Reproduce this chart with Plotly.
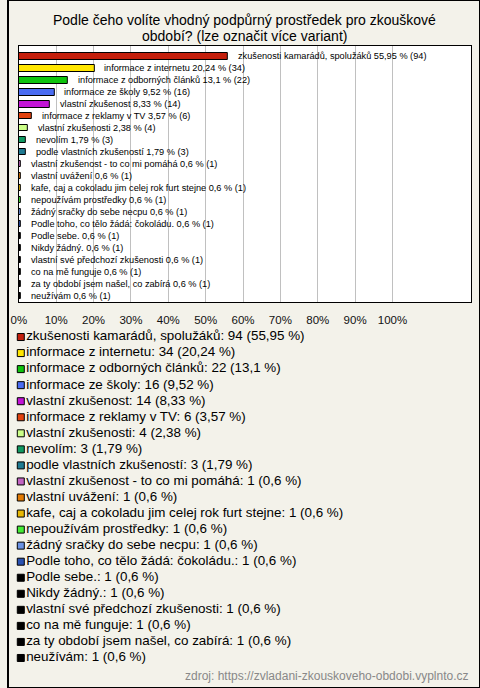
import plotly.graph_objects as go

title_lines = ["Podle čeho volíte vhodný podpůrný prostředek pro zkouškové",
               "období? (lze označit více variant)"]

categories = [
    "zkušenosti kamarádů, spolužáků",
    "informace z internetu",
    "informace z odborných článků",
    "informace ze školy",
    "vlastní zkušenost",
    "informace z reklamy v TV",
    "vlastní zkušenosti",
    "nevolím",
    "podle vlastních zkušeností",
    "vlastní zkušenost - to co mi pomáhá",
    "vlastní uvážení",
    "kafe, caj a cokoladu jim celej rok furt stejne",
    "nepoužívám prostředky",
    "žádný sračky do sebe necpu",
    "Podle toho, co tělo žádá: čokoládu.",
    "Podle sebe.",
    "Nikdy žádný.",
    "vlastní své předchozí zkušenosti",
    "co na mě funguje",
    "za ty období jsem našel, co zabírá",
    "neužívám",
]
counts = [94, 34, 22, 16, 14, 6, 4, 3, 3, 1, 1, 1, 1, 1, 1, 1, 1, 1, 1, 1, 1]
percents = [55.95, 20.24, 13.1, 9.52, 8.33, 3.57, 2.38, 1.79, 1.79,
            0.6, 0.6, 0.6, 0.6, 0.6, 0.6, 0.6, 0.6, 0.6, 0.6, 0.6, 0.6]
colors = ["#c41f0c", "#ffe600", "#0ec40e", "#4a6cf2", "#c214d6", "#e2420e",
          "#ccff88", "#109a62", "#1f7a92", "#c264c2", "#e27a04", "#e8b804",
          "#44ee36", "#6a92e4", "#2a52b2",
          "#000000", "#000000", "#000000", "#000000", "#000000", "#000000"]
tick_vals = [0, 10, 20, 30, 40, 50, 60, 70, 80, 90, 100]
tick_labels = [f"{v}%" for v in tick_vals]
source_text = "zdroj: https://zvladani-zkouskoveho-obdobi.vyplnto.cz"

W, H = 480, 688
BG = "#f3f2ea"
FONT = "Liberation Sans, Arial, sans-serif"


def cz(v):
    return f"{v:g}".replace(".", ",")


idx = list(range(len(categories)))

fig = go.Figure()

fig.add_trace(go.Bar(
    x=percents, y=idx, orientation="h",
    marker=dict(color=colors, line=dict(color="#000000", width=1)),
    width=0.52, hoverinfo="skip", showlegend=False,
    xaxis="x", yaxis="y",
))

# labels next to bars
for i, (c, p, n) in enumerate(zip(categories, percents, counts)):
    fig.add_annotation(
        x=p, y=i, xref="x", yref="y",
        text=f"{c} {cz(p)} % ({n})",
        showarrow=False, xanchor="left", yanchor="middle", xshift=8,
        font=dict(family=FONT, size=9.2, color="#000000"),
    )

# legend drawn as scatter in its own subplot
fig.add_trace(go.Scatter(
    x=[0] * len(categories), y=idx, mode="markers+text",
    marker=dict(symbol="square", size=7, color=colors,
                line=dict(color="#000000", width=1)),
    text=[f"{c}: {n} ({cz(p)} %)" for c, n, p in zip(categories, counts, percents)],
    textposition="middle right",
    textfont=dict(family=FONT, size=13.4, color="#000000"),
    cliponaxis=False, hoverinfo="skip", showlegend=False,
    xaxis="x2", yaxis="y2",
))

plot_top, plot_bottom = 46, 302
leg_top, leg_bottom = 329, 666

title_anns = [
    dict(text=t, xref="paper", yref="paper", x=0.5, y=1 - yy / H,
         xanchor="center", yanchor="middle", showarrow=False,
         font=dict(family=FONT, size=14, color="#000000"))
    for t, yy in zip(title_lines, [20, 35.5])
]

fig.update_layout(
    width=W, height=H,
    margin=dict(l=0, r=0, t=0, b=0),
    paper_bgcolor=BG, plot_bgcolor=BG,
    font=dict(family=FONT, color="#000000"),
    xaxis=dict(domain=[11 / W, 471 / W], range=[0, 121.05],
               tickvals=tick_vals, ticktext=tick_labels,
               showgrid=True, gridcolor="#c0c0c0", gridwidth=1,
               zeroline=False, showline=True, mirror=True, linecolor="#000000", linewidth=1,
               ticks="", ticklabelstandoff=7,
               tickfont=dict(family=FONT, size=11.5, color="#111111"),
               anchor="y", fixedrange=True),
    yaxis=dict(domain=[1 - plot_bottom / H, 1 - plot_top / H], range=[20.5, -0.875],
               showticklabels=False, showgrid=False, zeroline=False,
               showline=True, mirror=True, linecolor="#000000", linewidth=1,
               ticks="", anchor="x", fixedrange=True),
    xaxis2=dict(domain=[13 / W, 1], range=[0, 1], visible=False, anchor="y2"),
    yaxis2=dict(domain=[1 - leg_bottom / H, 1 - leg_top / H], range=[20.5, -0.5],
                visible=False, anchor="x2"),
    bargap=0,
    shapes=[
        dict(type="rect", xref="x domain", yref="y domain", x0=0, x1=1, y0=0, y1=1,
             fillcolor="#ffffff", line=dict(width=0), layer="below"),
        dict(type="rect", xref="paper", yref="paper", x0=0, x1=1, y0=0, y1=1,
             line=dict(color="#000000", width=2), layer="above"),
    ],
    annotations=list(fig.layout.annotations) + title_anns + [
        dict(text=source_text, xref="paper", yref="paper", x=1 - 10 / W, y=1 - 676 / H,
             xanchor="right", yanchor="middle", showarrow=False,
             font=dict(family=FONT, size=12, color="#888888")),
    ],
)

fig.write_html(
    "out.html",
    config={"displayModeBar": False},
    post_script="document.body.style.margin='0';document.body.style.padding='0';",
)
